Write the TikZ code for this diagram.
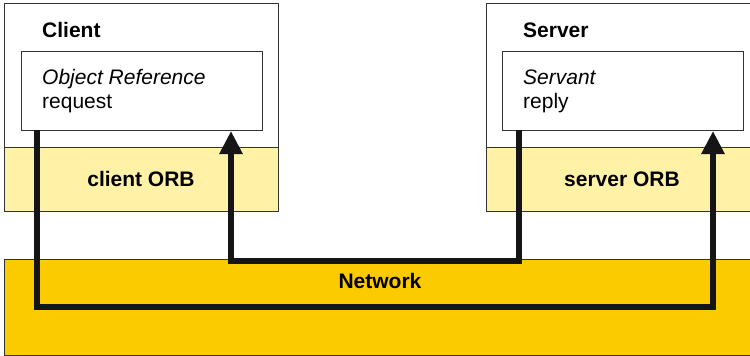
\documentclass[tikz,border=0pt]{standalone}
\usepackage{fontspec}
\setmainfont{Liberation Sans}
\usetikzlibrary{arrows.meta}
\definecolor{lightyel}{HTML}{FFF2A6}
\definecolor{netyel}{HTML}{FBCB00}
\definecolor{linegray}{HTML}{333333}
\definecolor{flow}{HTML}{151515}
\tikzset{
  boxline/.style={draw=linegray, line width=1pt},
  whitebox/.style={boxline, fill=white, inner sep=0pt},
  orbband/.style={boxline, fill=lightyel, inner sep=0pt},
  netband/.style={boxline, fill=netyel, inner sep=0pt},
  lbl/.style={anchor=base west, inner sep=0pt, font=\fontsize{21}{24}\selectfont},
  blbl/.style={anchor=base, inner sep=0pt, font=\fontsize{21}{24}\selectfont\bfseries},
  flowline/.style={draw=flow, line width=6pt, line join=miter,
     -{Triangle[width=22pt,length=23pt]}}
}
\begin{document}
\begin{tikzpicture}[x=1pt,y=-1pt]
\useasboundingbox (0,0) rectangle (750,356);
% network
\path[netband] (4,259) rectangle (760,355);
% client
\path[whitebox] (4,3) rectangle (278,147);
\path[orbband] (4,147) rectangle (278,211);
\path[whitebox] (21,51) rectangle (262,130);
% server
\path[whitebox] (486,3) rectangle (760,147);
\path[orbband] (486,147) rectangle (760,211);
\path[whitebox] (502,51) rectangle (743,130);
% labels
\node[lbl, font=\fontsize{21}{24}\selectfont\bfseries] (client) at (42,37) {Client};
\node[lbl, font=\fontsize{21}{24}\selectfont\itshape] (objref) at (42,84) {Object Reference};
\node[lbl] (request) at (42,108) {request};
\node[blbl] (corb) at (141,186) {client ORB};
\node[lbl, font=\fontsize{21}{24}\selectfont\bfseries] (server) at (523,37) {Server};
\node[lbl, font=\fontsize{21}{24}\selectfont\itshape] (servant) at (523,84) {Servant};
\node[lbl] (reply) at (523,108) {reply};
\node[blbl] (sorb) at (622,186) {server ORB};
\node[blbl] (network) at (380,288) {Network};
% flow coordinates
\coordinate (reqstart) at (37,130);
\coordinate (reqend) at (713,131);
\coordinate (repstart) at (519,130);
\coordinate (repend) at (231,131);
\draw[flowline] (reqstart) -- (reqstart |- 0,307) -- (reqend |- 0,307) -- (reqend);
\draw[flowline] (repstart) -- (repstart |- 0,261) -- (repend |- 0,261) -- (repend);
\end{tikzpicture}
\end{document}
